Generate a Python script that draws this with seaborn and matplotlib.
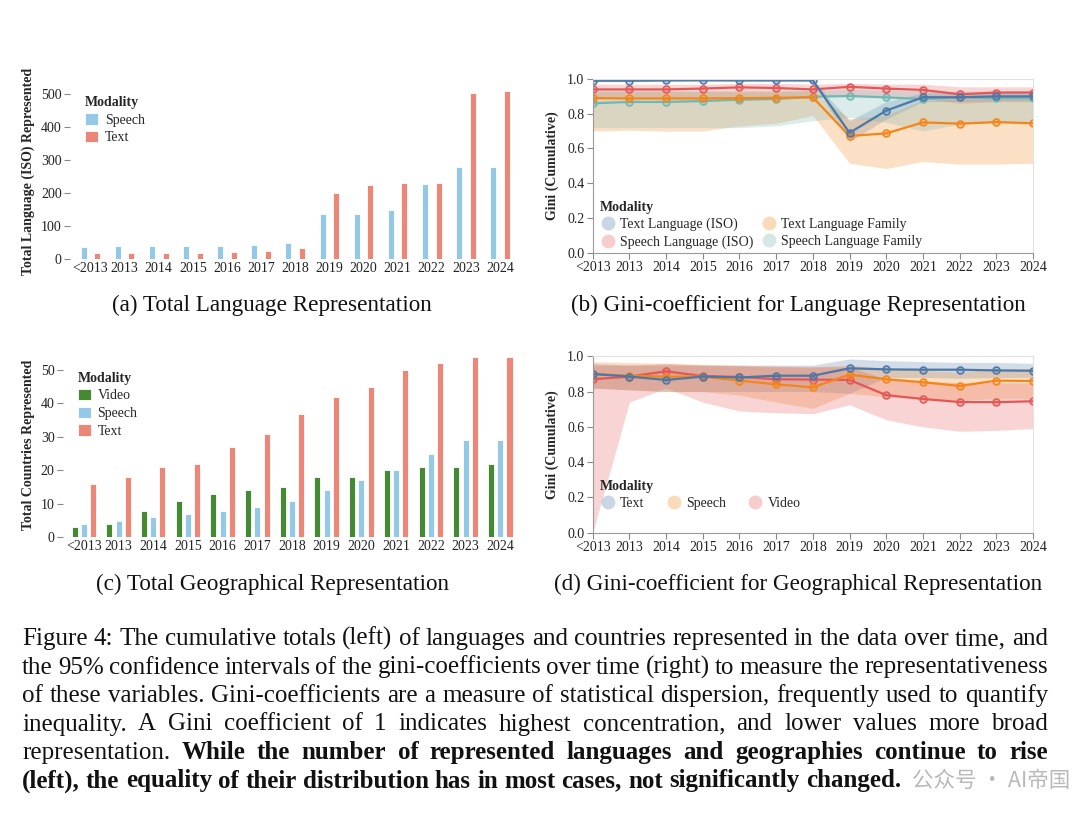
import numpy as np
import pandas as pd
import seaborn as sns
import matplotlib.pyplot as plt
from matplotlib.colors import to_rgba
from matplotlib.lines import Line2D

sns.set_theme(style="white")
plt.rcParams['font.family'] = ['Liberation Serif', 'DejaVu Serif']

W, H = 1080, 824

years = ["<2013", "2013", "2014", "2015", "2016", "2017", "2018",
         "2019", "2020", "2021", "2022", "2023", "2024"]

# (a) total languages (ISO)
lang_speech = [36, 38, 38, 38, 40, 43, 48, 138, 138, 148, 228, 280, 280]
lang_text = [18, 18, 18, 18, 22, 24, 32, 200, 225, 230, 230, 505, 510]

# (c) total countries
geo_video = [3, 4, 8, 11, 13, 14, 15, 18, 18, 20, 21, 21, 22]
geo_speech = [4, 5, 6, 7, 8, 9, 11, 14, 17, 20, 25, 29, 29]
geo_text = [16, 18, 21, 22, 27, 31, 37, 42, 45, 50, 52, 54, 54]

# (b) gini for language representation (value, lower, upper)
text_iso = [0.99, 0.99, 0.992, 0.993, 0.992, 0.992, 0.992, 0.69, 0.818, 0.895, 0.895, 0.90, 0.90]
text_iso_lo = [0.985, 0.985, 0.985, 0.985, 0.985, 0.985, 0.985, 0.64, 0.77, 0.87, 0.87, 0.875, 0.875]
text_iso_hi = [0.995, 0.995, 0.995, 0.995, 0.995, 0.995, 0.995, 0.76, 0.87, 0.92, 0.92, 0.92, 0.92]

speech_iso = [0.94, 0.94, 0.94, 0.945, 0.952, 0.948, 0.94, 0.955, 0.945, 0.937, 0.912, 0.922, 0.922]
speech_iso_lo = [0.89, 0.89, 0.89, 0.89, 0.90, 0.90, 0.90, 0.90, 0.90, 0.89, 0.86, 0.87, 0.87]
speech_iso_hi = [0.97, 0.97, 0.97, 0.97, 0.975, 0.975, 0.97, 0.975, 0.97, 0.97, 0.955, 0.955, 0.955]

text_fam = [0.89, 0.888, 0.888, 0.888, 0.89, 0.892, 0.894, 0.672, 0.687, 0.75, 0.743, 0.752, 0.745]
text_fam_lo = [0.70, 0.705, 0.70, 0.70, 0.73, 0.745, 0.79, 0.515, 0.485, 0.525, 0.51, 0.51, 0.515]
text_fam_hi = [0.93, 0.93, 0.93, 0.93, 0.93, 0.93, 0.93, 0.77, 0.79, 0.88, 0.88, 0.88, 0.88]

speech_fam = [0.86, 0.868, 0.868, 0.873, 0.881, 0.885, 0.898, 0.902, 0.894, 0.885, 0.894, 0.89, 0.89]
speech_fam_lo = [0.72, 0.72, 0.72, 0.72, 0.72, 0.73, 0.76, 0.78, 0.75, 0.70, 0.74, 0.75, 0.75]
speech_fam_hi = [0.93, 0.93, 0.93, 0.93, 0.93, 0.93, 0.935, 0.94, 0.935, 0.93, 0.93, 0.93, 0.93]

# (d) gini for geographical representation
geo_gini_text = [0.90, 0.885, 0.866, 0.885, 0.88, 0.89, 0.89, 0.932, 0.926, 0.924, 0.924, 0.92, 0.918]
geo_gini_text_lo = [0.82, 0.81, 0.80, 0.80, 0.80, 0.80, 0.80, 0.79, 0.88, 0.88, 0.875, 0.88, 0.88]
geo_gini_text_hi = [0.96, 0.95, 0.95, 0.95, 0.95, 0.95, 0.95, 0.985, 0.975, 0.97, 0.965, 0.965, 0.96]

geo_gini_speech = [0.90, 0.89, 0.885, 0.885, 0.862, 0.841, 0.824, 0.896, 0.87, 0.853, 0.832, 0.862, 0.86]
geo_gini_speech_lo = [0.82, 0.81, 0.80, 0.80, 0.78, 0.74, 0.705, 0.79, 0.77, 0.76, 0.75, 0.76, 0.76]
geo_gini_speech_hi = [0.97, 0.965, 0.96, 0.955, 0.95, 0.945, 0.94, 0.95, 0.93, 0.92, 0.91, 0.93, 0.93]

geo_gini_video = [0.87, 0.885, 0.915, 0.888, 0.883, 0.87, 0.868, 0.866, 0.78, 0.758, 0.741, 0.74, 0.745]
geo_gini_video_lo = [0.0, 0.74, 0.82, 0.74, 0.69, 0.68, 0.675, 0.725, 0.64, 0.60, 0.575, 0.58, 0.59]
geo_gini_video_hi = [0.95, 0.95, 0.96, 0.95, 0.945, 0.94, 0.94, 0.94, 0.87, 0.86, 0.85, 0.85, 0.85]

BLUE, ORANGE, RED, TEAL = "#4c78a8", "#f58518", "#e45756", "#72b7b2"
C_SPEECH, C_TEXT, C_VIDEO = "#93c9e6", "#ec8676", "#438a32"

TICK_COLOR = "#888888"


def axes_box(left, top, right, bottom):
    return [left / W, 1 - bottom / H, (right - left) / W, (bottom - top) / H]


def bar_panel(ax, df, hue_order, palette, gap, ylabel, yticks, ylim, leg_anchor):
    sns.barplot(data=df, x="year", y="count", hue="modality", order=years,
                hue_order=hue_order, palette=palette, width=0.8, gap=gap,
                saturation=1, edgecolor="white", linewidth=0.6, ax=ax)
    ax.set_xlim(-0.6, 12.5)
    ax.set_ylim(*ylim)
    ax.set_yticks(yticks)
    for s in ax.spines.values():
        s.set_visible(False)
    ax.tick_params(axis="y", left=True, length=4, width=0.8, color=TICK_COLOR,
                   labelsize=10, pad=2, labelcolor="#222222")
    ax.tick_params(axis="x", bottom=False, length=0, labelsize=10, pad=2,
                   labelcolor="#222222")
    ax.set_xlabel("")
    ax.set_ylabel(ylabel, fontsize=10, fontweight="bold", labelpad=4)
    sns.move_legend(ax, "upper left", bbox_to_anchor=leg_anchor, frameon=False,
                    title="Modality", fontsize=10, title_fontsize=10,
                    handlelength=0.9, handleheight=0.9, borderpad=0,
                    borderaxespad=0, labelspacing=0.3, handletextpad=0.5,
                    alignment="left")
    ax.get_legend().get_title().set_fontweight("bold")


def gini_panel(ax, series, leg_anchor, ncol, colspace):
    pos = np.arange(len(years))
    for name, vals, lo, hi, color in series:
        ax.fill_between(pos, lo, hi, color=color, alpha=0.25, lw=0)
    for name, vals, lo, hi, color in series[::-1]:
        sns.lineplot(x=pos, y=vals, color=color, lw=1.6, marker="o",
                     markersize=5, markerfacecolor=to_rgba(color, 0.3),
                     markeredgecolor=color, markeredgewidth=1.1, ax=ax)
    ax.set_xlim(0, 12)
    ax.set_ylim(0, 1)
    ax.set_xticks(pos)
    ax.set_xticklabels(years)
    ax.set_yticks(np.arange(0, 1.01, 0.2))
    ax.set_yticklabels([f"{v:.1f}" for v in np.arange(0, 1.01, 0.2)])
    for side in ["top", "right"]:
        ax.spines[side].set_color("#e2e2e2")
        ax.spines[side].set_linewidth(0.8)
    for side in ["left", "bottom"]:
        ax.spines[side].set_color("#9a9a9a")
        ax.spines[side].set_linewidth(0.8)
    ax.tick_params(axis="both", length=4, width=0.8, color=TICK_COLOR,
                   labelsize=10, pad=2, labelcolor="#222222")
    ax.tick_params(axis="both", bottom=True, left=True)
    ax.set_xlabel("")
    ax.set_ylabel("Gini (Cumulative)", fontsize=10, fontweight="bold", labelpad=6)
    handles = [Line2D([], [], ls="none", marker="o", markersize=10,
                      markerfacecolor=to_rgba(c, 0.3), markeredgewidth=0)
               for _, _, _, _, c in series]
    labels = [s[0] for s in series]
    leg = ax.legend(handles, labels, loc="upper left", bbox_to_anchor=leg_anchor,
                    ncol=ncol, frameon=False, title="Modality", fontsize=10,
                    title_fontsize=10, borderpad=0, borderaxespad=0,
                    labelspacing=0.3, handletextpad=0.3, handlelength=1.2,
                    columnspacing=colspace, alignment="left")
    leg.get_title().set_fontweight("bold")


fig = plt.figure(figsize=(W / 100, H / 100), dpi=100)

ax_a = fig.add_axes(axes_box(70, 84.6, 517, 259))
ax_b = fig.add_axes(axes_box(592.7, 79, 1033, 252.7))
ax_c = fig.add_axes(axes_box(63, 353.3, 517.6, 537.3))
ax_d = fig.add_axes(axes_box(592.7, 356.3, 1033, 532.7))

df_lang = pd.DataFrame({
    "year": years * 2,
    "count": lang_speech + lang_text,
    "modality": ["Speech"] * len(years) + ["Text"] * len(years),
})
bar_panel(ax_a, df_lang, ["Speech", "Text"], [C_SPEECH, C_TEXT], 0.56,
          "Total Language (ISO) Represented", [0, 100, 200, 300, 400, 500],
          (0, 530), (0.034, 0.935))

df_geo = pd.DataFrame({
    "year": years * 3,
    "count": geo_video + geo_speech + geo_text,
    "modality": ["Video"] * len(years) + ["Speech"] * len(years) + ["Text"] * len(years),
})
bar_panel(ax_c, df_geo, ["Video", "Speech", "Text"], [C_VIDEO, C_SPEECH, C_TEXT], 0.35,
          "Total Countries Represented", [0, 10, 20, 30, 40, 50],
          (0, 55), (0.033, 0.9))

gini_panel(ax_b, [
    ("Text Language (ISO)", text_iso, text_iso_lo, text_iso_hi, BLUE),
    ("Speech Language (ISO)", speech_iso, speech_iso_lo, speech_iso_hi, RED),
    ("Text Language Family", text_fam, text_fam_lo, text_fam_hi, ORANGE),
    ("Speech Language Family", speech_fam, speech_fam_lo, speech_fam_hi, TEAL),
], (0.015, 0.30), 2, 0.5)

gini_panel(ax_d, [
    ("Text", geo_gini_text, geo_gini_text_lo, geo_gini_text_hi, BLUE),
    ("Speech", geo_gini_speech, geo_gini_speech_lo, geo_gini_speech_hi, ORANGE),
    ("Video", geo_gini_video, geo_gini_video_lo, geo_gini_video_hi, RED),
], (0.015, 0.30), 3, 1.5)

# sub-captions
sub_caps = [
    ("(a) Total Language Representation", 272, 305),
    ("(b) Gini-coefficient for Language Representation", 798, 305),
    ("(c) Total Geographical Representation", 273, 584),
    ("(d) Gini-coefficient for Geographical Representation", 798, 584),
]
for txt, x, y in sub_caps:
    fig.text(x / W, 1 - y / H, txt, ha="center", va="center", fontsize=16.7,
             color="#111111")

# figure caption, justified
caption = [
    ([("Figure 4: The cumulative totals (left) of languages and countries represented in the data over time, and", "normal")], True),
    ([("the 95% confidence intervals of the gini-coefficients over time (right) to measure the representativeness", "normal")], True),
    ([("of these variables. Gini-coefficients are a measure of statistical dispersion, frequently used to quantify", "normal")], True),
    ([("inequality. A Gini coefficient of 1 indicates highest concentration, and lower values more broad", "normal")], True),
    ([("representation.", "normal"),
      ("While the number of represented languages and geographies continue to rise", "bold")], True),
    ([("(left), the equality of their distribution has in most cases, not significantly changed.", "bold")], False),
]
baselines = [645, 673.5, 702, 730.5, 759, 787.5]
x0, x1 = 22, 1048
CAP_FS = 18

renderer = fig.canvas.get_renderer()
probe = fig.text(0, 0, "a a", fontsize=CAP_FS)
probe2 = fig.text(0, 0, "aa", fontsize=CAP_FS)
space_w = probe.get_window_extent(renderer).width - probe2.get_window_extent(renderer).width
probe.remove()
probe2.remove()

for (segs, justify), yb in zip(caption, baselines):
    words = [(w, wt) for text, wt in segs for w in text.split()]
    arts = [fig.text(0, 1 - yb / H, w, fontsize=CAP_FS, fontweight=wt,
                     va="baseline", ha="left", color="#111111") for w, wt in words]
    widths = [a.get_window_extent(renderer).width for a in arts]
    gap = (x1 - x0 - sum(widths)) / (len(arts) - 1) if justify else space_w
    x = x0
    for a, w in zip(arts, widths):
        a.set_x(x / W)
        x += w + gap

# watermark, kept clear of the last caption line
fig.text(912 / W, 1 - 781 / H, "公众号 · AI帝国", fontsize=15.5, color="#a8a8a8",
         alpha=0.8, va="center", ha="left",
         family=["Noto Sans CJK SC", "DejaVu Sans"])

fig.savefig("out.png", dpi=100)
plt.close(fig)
